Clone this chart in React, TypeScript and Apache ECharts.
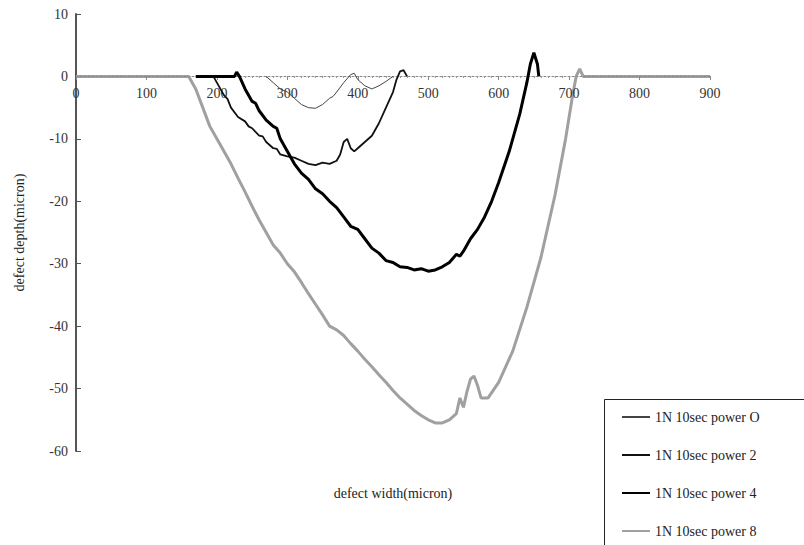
import React, { useEffect, useRef } from "react";
import * as echarts from "echarts";

const xTicks = [0, 100, 200, 300, 400, 500, 600, 700, 800, 900];
const yTicks = [10, 0, -10, -20, -30, -40, -50, -60];

const seriesNames = [
  "1N 10sec power O",
  "1N 10sec power 2",
  "1N 10sec power 4",
  "1N 10sec power 8",
];

const power0: [number, number][] = [
  [270, 0], [280, -1], [290, -2], [300, -2.5], [310, -3.5], [320, -4.5], [330, -5], [340, -5.1],
  [350, -4.5], [360, -3.5], [365, -3.2], [370, -2.5], [380, -1], [390, 0.3], [395, 0.5], [400, -0.5],
  [410, -1.5], [420, -2], [430, -1.5], [440, -0.8], [450, 0],
];

const power2: [number, number][] = [
  [195, 0], [200, -1], [210, -3], [215, -3.6], [220, -5], [230, -6.5], [240, -7.2], [245, -8],
  [250, -8.3], [260, -9.5], [265, -9.6], [270, -10.5], [280, -11.5], [285, -11.6], [290, -12.5],
  [300, -12.8], [310, -13], [320, -13.5], [330, -14], [340, -14.2], [350, -13.8], [360, -14],
  [370, -13.5], [375, -12.5], [380, -10.5], [385, -10], [390, -11.5], [395, -12], [400, -11.5],
  [410, -10.5], [420, -9.5], [430, -7.5], [440, -5], [450, -2.5], [455, -0.5], [460, 0.8],
  [465, 1], [470, 0],
];

const power4: [number, number][] = [
  [170, 0], [225, 0], [228, 0.7], [232, 0], [240, -2], [250, -4], [255, -4.3], [260, -5.5],
  [270, -7], [280, -8], [285, -8.3], [290, -10], [300, -12], [310, -14], [320, -15.5],
  [330, -16.5], [340, -18], [350, -18.8], [360, -20], [370, -21], [380, -22.5], [390, -24],
  [400, -24.5], [410, -26], [420, -27.5], [430, -28.3], [440, -29.5], [450, -29.8], [460, -30.5],
  [470, -30.6], [480, -31], [490, -30.8], [500, -31.2], [510, -31], [520, -30.5], [530, -29.8],
  [540, -28.5], [545, -28.8], [550, -28], [560, -26], [570, -24.5], [580, -22.5], [590, -20],
  [600, -17], [615, -12], [630, -6], [640, -1], [645, 2], [650, 3.8], [655, 2], [657, 0],
];

const power8: [number, number][] = [
  [0, 0], [160, 0], [170, -2], [180, -5], [190, -8], [200, -10], [210, -12], [220, -14],
  [230, -16.3], [240, -18.5], [250, -20.8], [260, -23], [270, -25], [280, -27], [290, -28.3],
  [300, -30], [310, -31.3], [320, -33], [330, -34.8], [340, -36.5], [350, -38.2], [360, -40],
  [370, -40.6], [380, -41.5], [390, -42.8], [400, -44], [410, -45.3], [420, -46.5], [430, -47.8],
  [440, -49], [450, -50.3], [460, -51.5], [470, -52.5], [480, -53.5], [490, -54.3], [500, -55],
  [510, -55.5], [520, -55.5], [530, -55], [540, -54], [545, -51.5], [550, -53], [555, -50.5],
  [560, -48.5], [565, -48], [570, -49.5], [575, -51.5], [585, -51.5], [600, -49], [620, -44],
  [640, -37], [660, -29], [680, -19], [695, -10], [705, -3], [710, 0], [715, 1.2], [720, 0],
  [900, 0],
];

const FONT = "'Liberation Serif', 'DejaVu Serif', serif";

export default function App() {
  const ref = useRef<HTMLDivElement>(null);
  useEffect(() => {
    if (!ref.current) return;
    const chart = echarts.init(ref.current, null, { renderer: "svg" });
    chart.setOption({
      animation: false,
      backgroundColor: "#fff",
      textStyle: { fontFamily: FONT },
      grid: { left: 76, right: 94, top: 14, bottom: 94, containLabel: false, outerBoundsMode: "none" },
      xAxis: {
        type: "value",
        min: xTicks[0],
        max: xTicks[xTicks.length - 1],
        interval: 100,
        offset: -375,
        name: "defect width(micron)",
        nameLocation: "middle",
        nameGap: 410,
        nameTextStyle: { fontFamily: FONT, fontSize: 14, color: "#222" },
        axisLine: { onZero: false, lineStyle: { color: "#888", width: 1, type: [2, 2] } },
        axisTick: { show: true, length: 4, lineStyle: { color: "#888" } },
        minorTick: { show: true, splitNumber: 10, length: 2, lineStyle: { color: "#999" } },
        axisLabel: { fontFamily: FONT, fontSize: 14, color: "#333", margin: 10 },
        splitLine: { show: false },
        z: 1.5,
      },
      yAxis: {
        type: "value",
        min: yTicks[yTicks.length - 1],
        max: yTicks[0],
        interval: 10,
        name: "defect depth(micron)",
        nameLocation: "middle",
        nameGap: 50,
        nameTextStyle: { fontFamily: FONT, fontSize: 14, color: "#222" },
        axisLine: { show: true, onZero: false, lineStyle: { color: "#555", width: 2 } },
        axisTick: { show: true, inside: true, length: 5, lineStyle: { color: "#555" } },
        axisLabel: { fontFamily: FONT, fontSize: 14, color: "#333", margin: 8 },
        splitLine: { show: false },
      },
      legend: {
        show: true,
        orient: "vertical",
        left: 616,
        top: 405,
        height: 200,
        itemWidth: 28,
        itemHeight: 14,
        itemGap: 24,
        data: seriesNames,
        itemStyle: { opacity: 0 },
        textStyle: { fontFamily: FONT, fontSize: 14, color: "#222" },
      },
      graphic: [
        {
          type: "rect",
          left: 602,
          top: 397,
          shape: { width: 260, height: 200 },
          style: { fill: "none", stroke: "#222", lineWidth: 1 },
          silent: true,
          z: 100,
        },
      ],
      series: [
        {
          name: seriesNames[0],
          type: "line",
          data: power0,
          symbol: "none",
          lineStyle: { color: "#444", width: 1 },
          itemStyle: { color: "#444" },
          z: 2,
        },
        {
          name: seriesNames[1],
          type: "line",
          data: power2,
          symbol: "none",
          lineStyle: { color: "#111", width: 1.8 },
          itemStyle: { color: "#111" },
          z: 3,
        },
        {
          name: seriesNames[2],
          type: "line",
          data: power4,
          symbol: "none",
          lineStyle: { color: "#000", width: 3 },
          itemStyle: { color: "#000" },
          z: 4,
        },
        {
          name: seriesNames[3],
          type: "line",
          data: power8,
          symbol: "none",
          lineStyle: { color: "#a0a0a0", width: 3 },
          itemStyle: { color: "#a0a0a0" },
          z: 1,
        },
      ],
    });
    return () => chart.dispose();
  }, []);
  return <div ref={ref} style={{ width: 804, height: 545, position: "absolute", left: 0, top: 0 }} />;
}
